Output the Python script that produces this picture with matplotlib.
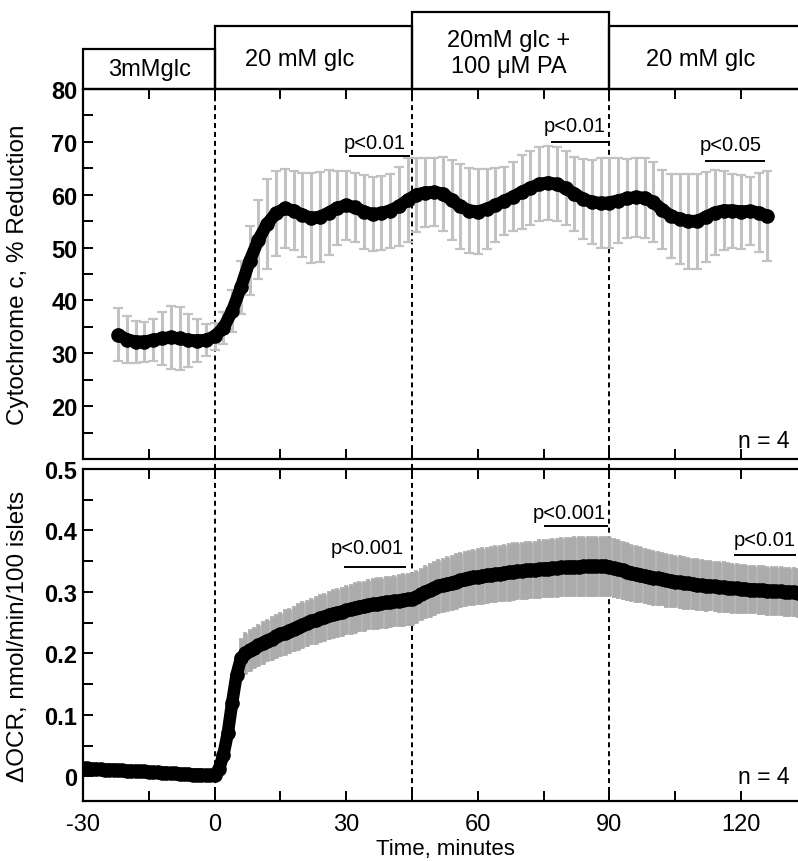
import matplotlib
matplotlib.use("Agg")
import matplotlib.pyplot as plt
import matplotlib.transforms as mtransforms
from matplotlib.patches import Rectangle
from matplotlib.ticker import MultipleLocator

plt.rcParams["font.family"] = ["Liberation Sans", "DejaVu Sans"]

# ---------------- data ----------------
# Cytochrome c reduction (%), every 2 min from -22 to 126 min
cyt_time = list(range(-22, 127, 2))
cyt_mean = [
    33.5, 32.6, 32.2, 32.2, 32.5, 32.8, 33.0, 32.8, 32.5, 32.4,   # -22 .. -4
    32.5, 33.2, 34.8, 38.0, 42.5, 47.5, 51.5, 54.5, 56.5, 57.4,   # -2 .. 16
    57.0, 56.2, 55.6, 55.8, 56.6, 57.5, 58.0, 57.6, 56.8, 56.3,   # 18 .. 36
    56.5, 57.0, 57.8, 59.0, 60.0, 60.4, 60.5, 60.2, 59.0, 57.8,   # 38 .. 56
    57.0, 56.8, 57.3, 58.0, 58.8, 59.6, 60.5, 61.3, 62.0, 62.3,   # 58 .. 76
    62.0, 61.2, 60.2, 59.2, 58.6, 58.4, 58.5, 58.9, 59.3, 59.5,   # 78 .. 96
    59.4, 58.6, 57.2, 56.0, 55.4, 55.0, 55.0, 55.8, 56.6, 57.0,   # 98 .. 116
    57.0, 56.8, 56.9, 56.6, 56.0,                                 # 118 .. 126
]
cyt_sd = [
    5.0, 4.5, 4.0, 3.8, 4.0, 5.0, 6.0, 6.0, 5.0, 4.0,
    3.0, 2.5, 3.0, 4.0, 5.0, 6.5, 7.5, 8.5, 8.0, 7.5,
    7.5, 8.0, 8.5, 8.5, 8.0, 7.0, 6.5, 6.5, 7.0, 7.0,
    7.0, 7.0, 7.5, 8.0, 7.0, 6.5, 6.5, 7.0, 7.5, 8.0,
    8.0, 8.0, 7.5, 7.0, 6.5, 6.5, 7.0, 7.0, 7.0, 7.0,
    7.0, 7.0, 7.0, 7.5, 8.0, 8.5, 8.5, 8.0, 7.5, 7.5,
    7.5, 7.5, 7.5, 8.0, 8.5, 9.0, 9.0, 8.5, 8.0, 7.5,
    7.0, 7.0, 6.5, 7.5, 8.5,
]

# Change in oxygen consumption rate, every 1 min from -30 to 134 min
ocr_time = list(range(-30, 135))
ocr_mean = [
    0.013, 0.013, 0.012, 0.012, 0.012, 0.011, 0.011, 0.011, 0.010, 0.010,  # -30
    0.009, 0.009, 0.009, 0.008, 0.008, 0.007, 0.007, 0.007, 0.006, 0.006,  # -20
    0.005, 0.005, 0.004, 0.004, 0.004, 0.003, 0.003, 0.003, 0.002, 0.002,  # -10
    0.002, 0.012, 0.035, 0.070, 0.120, 0.165, 0.192, 0.200, 0.205, 0.209,  # 0
    0.213, 0.217, 0.221, 0.224, 0.228, 0.231, 0.234, 0.237, 0.240, 0.243,  # 10
    0.246, 0.249, 0.252, 0.254, 0.257, 0.259, 0.262, 0.264, 0.266, 0.268,  # 20
    0.270, 0.272, 0.274, 0.276, 0.277, 0.279, 0.280, 0.281, 0.282, 0.283,  # 30
    0.284, 0.285, 0.286, 0.287, 0.288, 0.289, 0.292, 0.296, 0.300, 0.303,  # 40
    0.306, 0.309, 0.311, 0.313, 0.315, 0.317, 0.319, 0.321, 0.322, 0.324,  # 50
    0.325, 0.326, 0.327, 0.328, 0.329, 0.330, 0.331, 0.332, 0.333, 0.334,  # 60
    0.334, 0.335, 0.336, 0.336, 0.337, 0.338, 0.338, 0.339, 0.339, 0.340,  # 70
    0.340, 0.341, 0.341, 0.341, 0.342, 0.342, 0.342, 0.342, 0.342, 0.342,  # 80
    0.341, 0.339, 0.337, 0.335, 0.333, 0.331, 0.329, 0.328, 0.326, 0.325,  # 90
    0.323, 0.322, 0.321, 0.319, 0.318, 0.317, 0.316, 0.315, 0.314, 0.313,  # 100
    0.312, 0.311, 0.310, 0.310, 0.309, 0.308, 0.308, 0.307, 0.306, 0.306,  # 110
    0.305, 0.305, 0.304, 0.304, 0.303, 0.303, 0.302, 0.302, 0.301, 0.301,  # 120
    0.300, 0.300, 0.300, 0.299, 0.299,                                     # 130
]
ocr_sd = [
    0.004, 0.004, 0.004, 0.004, 0.004, 0.004, 0.004, 0.004, 0.004, 0.004,
    0.004, 0.004, 0.004, 0.004, 0.004, 0.004, 0.004, 0.004, 0.004, 0.004,
    0.004, 0.004, 0.004, 0.004, 0.004, 0.004, 0.004, 0.004, 0.004, 0.004,
    0.004, 0.005, 0.008, 0.012, 0.020, 0.028, 0.032, 0.033, 0.033, 0.033,
    0.034, 0.034, 0.034, 0.035, 0.035, 0.035, 0.036, 0.036, 0.036, 0.037,
    0.037, 0.037, 0.037, 0.038, 0.038, 0.038, 0.038, 0.039, 0.039, 0.039,
    0.039, 0.040, 0.040, 0.040, 0.040, 0.040, 0.041, 0.041, 0.041, 0.041,
    0.041, 0.041, 0.042, 0.042, 0.042, 0.042, 0.042, 0.042, 0.043, 0.043,
    0.043, 0.043, 0.043, 0.044, 0.044, 0.044, 0.044, 0.044, 0.044, 0.045,
    0.045, 0.045, 0.045, 0.045, 0.045, 0.045, 0.046, 0.046, 0.046, 0.046,
    0.046, 0.046, 0.046, 0.046, 0.047, 0.047, 0.047, 0.047, 0.047, 0.047,
    0.047, 0.047, 0.048, 0.048, 0.048, 0.048, 0.048, 0.048, 0.048, 0.048,
    0.048, 0.047, 0.047, 0.046, 0.046, 0.045, 0.045, 0.045, 0.044, 0.044,
    0.044, 0.043, 0.043, 0.043, 0.042, 0.042, 0.042, 0.042, 0.041, 0.041,
    0.041, 0.041, 0.041, 0.040, 0.040, 0.040, 0.040, 0.040, 0.040, 0.040,
    0.039, 0.039, 0.039, 0.039, 0.039, 0.039, 0.039, 0.039, 0.039, 0.039,
    0.039, 0.039, 0.039, 0.039, 0.039,
]

x_ticks = [-30, 0, 30, 60, 90, 120]
phase_edges = [-30, 0, 45, 90, 140]
phase_labels = ["3mMglc", "20 mM glc", "20mM glc +\n100 μM PA", "20 mM glc"]
phase_label_x = [-14.8, 19.5, 67.0, 110.7]
phase_box_top = [1.108, 1.170, 1.208, 1.170]
phase_label_y = [1.054, 1.081, 1.097, 1.081]
switch_times = [0, 45, 90]

cyt_sig_text = ["p<0.01", "p<0.01", "p<0.05"]
cyt_sig_text_xy = [(36.4, 69.9), (82.0, 73.0), (117.6, 69.5)]
cyt_sig_bar = [(30.8, 44.3, 67.3), (77.0, 90.0, 69.9), (111.9, 125.3, 66.3)]

ocr_sig_text = ["p<0.001", "p<0.001", "p<0.01"]
ocr_sig_text_xy = [(34.7, 0.372), (80.8, 0.429), (125.3, 0.385)]
ocr_sig_bar = [(29.7, 43.4, 0.341), (75.3, 89.5, 0.4065), (118.7, 132.2, 0.360)]

# ---------------- figure ----------------
W, H = 798, 862
fig = plt.figure(figsize=(W / 100, H / 100), dpi=100)

px_per_min = 4.387
ax_left, ax_right = 83, 808
xlim = (-30, -30 + (ax_right - ax_left) / px_per_min)

ax1 = fig.add_axes([ax_left / W, 1 - 460 / H, (ax_right - ax_left) / W, 370 / H])
ax2 = fig.add_axes([ax_left / W, 1 - 802 / H, (ax_right - ax_left) / W, 332 / H])

tick_kw = dict(direction="in", length=7.5, width=1.4, top=True, right=True)
dash = (0, (2.6, 2.0))

for ax in (ax1, ax2):
    ax.set_xlim(*xlim)
    for sp in ax.spines.values():
        sp.set_linewidth(1.6)
    ax.xaxis.set_major_locator(MultipleLocator(15))
    ax.tick_params(axis="both", which="both", **tick_kw)
    for t in switch_times:
        ax.axvline(t, color="black", lw=1.4, ls=dash, zorder=1)

# ---- top panel: cytochrome c ----
ax1.errorbar(cyt_time, cyt_mean, yerr=cyt_sd, fmt="none", ecolor="#c2c2c2",
             elinewidth=2.2, capsize=3.5, capthick=1.6, zorder=2)
ax1.plot(cyt_time, cyt_mean, "-", color="black", lw=9, solid_capstyle="round", zorder=3)
ax1.plot(cyt_time, cyt_mean, "o", color="black", ms=9.5, zorder=4)
ax1.set_ylim(10, 80)
ax1.set_yticks([20, 30, 40, 50, 60, 70, 80])
ax1.yaxis.set_minor_locator(MultipleLocator(5))
ax1.tick_params(axis="x", labelbottom=False)
ax1.tick_params(axis="y", which="major", labelsize=17, pad=4)
for lab in ax1.get_yticklabels():
    lab.set_fontweight("bold")
ax1.set_ylabel("Cytochrome c, % Reduction", fontsize=17.5)
ax1.text(131, 13.5, "n = 4", fontsize=16.5, ha="right", va="center")

for txt, (tx, ty), (x0, x1, yb) in zip(cyt_sig_text, cyt_sig_text_xy, cyt_sig_bar):
    ax1.text(tx, ty, txt, fontsize=14.5, ha="center", va="center")
    ax1.plot([x0, x1], [yb, yb], color="black", lw=1.4, zorder=5)

# phase header boxes above the top panel
trans = mtransforms.blended_transform_factory(ax1.transData, ax1.transAxes)
for i, label in enumerate(phase_labels):
    x0, x1 = phase_edges[i], phase_edges[i + 1]
    rect = Rectangle((x0, 1.0), x1 - x0, phase_box_top[i] - 1.0, transform=trans,
                     fill=False, edgecolor="black", lw=1.6, clip_on=False)
    ax1.add_patch(rect)
    ax1.text(phase_label_x[i], phase_label_y[i], label, transform=trans,
             fontsize=17, ha="center", va="center", linespacing=1.2)

# ---- bottom panel: delta OCR ----
ax2.errorbar(ocr_time, ocr_mean, yerr=ocr_sd, fmt="none", ecolor="#ababab",
             elinewidth=3.4, capsize=1.5, capthick=1.2, zorder=2)
ax2.plot(ocr_time, ocr_mean, "-", color="black", lw=9, solid_capstyle="round", zorder=3)
ax2.plot(ocr_time, ocr_mean, "o", color="black", ms=9.5, zorder=4)
ax2.set_ylim(-0.04, 0.5)
ax2.set_yticks([0, 0.1, 0.2, 0.3, 0.4, 0.5])
ax2.set_yticklabels(["0", "0.1", "0.2", "0.3", "0.4", "0.5"])
ax2.yaxis.set_minor_locator(MultipleLocator(0.05))
ax2.set_xticks(x_ticks)
ax2.set_xticklabels([str(v) for v in x_ticks])
ax2.xaxis.set_minor_locator(MultipleLocator(15))
ax2.tick_params(axis="x", which="major", labelsize=17, pad=9)
ax2.tick_params(axis="y", which="major", labelsize=17, pad=4)
for lab in ax2.get_yticklabels():
    lab.set_fontweight("bold")
ax2.set_ylabel("ΔOCR, nmol/min/100 islets", fontsize=17.5)
ax2.set_xlabel("Time, minutes", fontsize=16)
ax2.text(131, 0.0, "n = 4", fontsize=16.5, ha="right", va="center")

for txt, (tx, ty), (x0, x1, yb) in zip(ocr_sig_text, ocr_sig_text_xy, ocr_sig_bar):
    ax2.text(tx, ty, txt, fontsize=14.5, ha="center", va="center", clip_on=False)
    ax2.plot([x0, x1], [yb, yb], color="black", lw=1.4, zorder=5)

# dashed switch lines continue across the gap between the panels
for t in switch_times:
    ax2.axvline(t, ymin=1.0, ymax=1.035, color="black", lw=1.4,
                ls=dash, clip_on=False, zorder=1)

ax1.yaxis.set_label_coords(-0.075, 0.5)
ax2.yaxis.set_label_coords(-0.075, 0.5)
ax2.xaxis.set_label_coords(0.5, -0.112)

fig.savefig("out.png", dpi=100)
